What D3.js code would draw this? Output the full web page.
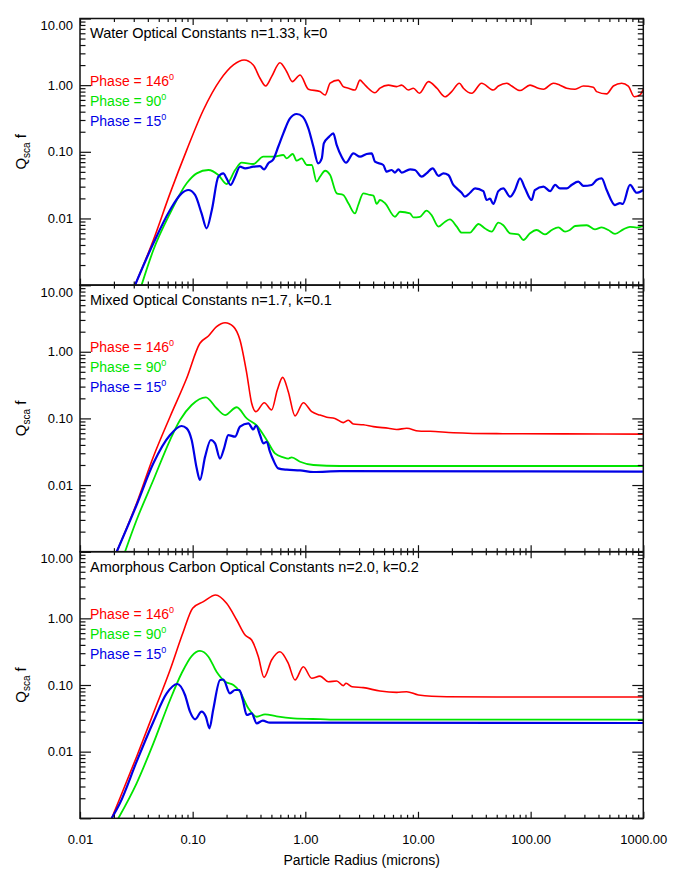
<!DOCTYPE html>
<html>
<head>
<meta charset="utf-8">
<script src="https://cdn.jsdelivr.net/npm/d3@7"></script>
<style>
  body { margin: 0; background: #fff; }
  text { font-family: "Liberation Sans", Arial, Helvetica, sans-serif; }
</style>
</head>
<body>
<svg id="chart" width="677" height="886"></svg>
<script>
// values: [radius (microns), Qsca f]
const water146 = [[0.0308,0.001],[0.0448,0.00475],[0.063,0.0238],[0.0885,0.106],[0.1245,0.424],[0.175,1.19],[0.23,2.01],[0.286,2.38],[0.345,2.01],[0.396,1.27],[0.445,0.97],[0.502,1.34],[0.595,2.17],[0.684,1.59],[0.767,1.13],[0.898,1.42],[1.064,0.87],[1.35,0.80],[1.50,0.71],[1.66,1.07],[1.96,1.19],[2.17,0.95],[2.41,0.90],[2.76,0.845],[3.06,1.19],[3.27,1.07],[3.5,0.95],[4.15,0.77],[4.6,0.90],[5.46,1.0],[6.47,0.95],[7.16,1.0],[8.2,0.845],[9.1,0.90],[10.3,0.755],[12.4,1.13],[14.7,0.90],[17.4,0.67],[19.9,0.80],[23.3,1.07],[25.3,0.90],[30,0.755],[36.7,1.07],[46.6,0.845],[51.7,0.97],[61.3,1.07],[67.9,0.97],[80.5,0.83],[98.7,1.0],[117,0.90],[130,0.87],[159,1.07],[182,1.0],[209,0.90],[248,0.87],[294,0.97],[360,0.93],[385,0.80],[473,0.74],[542,0.97],[643,1.07],[736,0.97],[832,0.67],[935,0.71],[1000,0.87]];
const water90 = [[0.0352,0.001],[0.0448,0.00336],[0.063,0.0119],[0.0885,0.0337],[0.1086,0.0475],[0.138,0.0533],[0.169,0.0449],[0.2,0.0329],[0.238,0.0533],[0.272,0.0687],[0.345,0.0656],[0.424,0.0845],[0.52,0.0845],[0.638,0.0895],[0.684,0.0798],[0.773,0.0927],[0.838,0.0736],[0.93,0.0798],[1.03,0.0634],[1.14,0.0634],[1.26,0.0356],[1.35,0.0423],[1.5,0.052],[1.66,0.0449],[1.9,0.0238],[2.17,0.0225],[2.41,0.0169],[2.76,0.0119],[2.95,0.0159],[3.27,0.0238],[3.75,0.0225],[4.02,0.022],[4.3,0.0165],[4.6,0.0189],[5.1,0.0169],[6.25,0.0106],[6.92,0.0126],[8.5,0.0119],[9.1,0.0104],[10.4,0.0106],[11.9,0.0131],[13.2,0.0112],[15.2,0.00753],[17.4,0.00895],[19.2,0.0097],[22.1,0.00753],[24.4,0.00612],[29,0.00612],[31,0.00687],[34.4,0.00826],[39.4,0.00705],[45.1,0.00634],[51.7,0.00865],[57.2,0.0079],[65.6,0.00598],[77.8,0.00575],[86.1,0.00475],[98.7,0.00598],[113,0.00671],[134,0.00575],[154,0.00671],[176,0.00736],[202,0.00634],[223,0.00671],[248,0.0077],[315,0.0079],[372,0.00687],[427,0.00736],[489,0.00671],[561,0.00585],[665,0.00687],[762,0.0075],[874,0.0073],[1000,0.0077]];
const water15 = [[0.0308,0.001],[0.0448,0.00424],[0.063,0.0134],[0.0798,0.0238],[0.0914,0.0267],[0.105,0.0225],[0.12,0.0119],[0.133,0.00711],[0.148,0.0134],[0.169,0.0423],[0.187,0.0475],[0.2,0.04],[0.217,0.0318],[0.238,0.0423],[0.263,0.0598],[0.292,0.0565],[0.345,0.0598],[0.396,0.061],[0.43,0.0546],[0.47,0.0672],[0.52,0.0771],[0.575,0.119],[0.638,0.189],[0.731,0.318],[0.838,0.369],[0.948,0.336],[1.064,0.225],[1.18,0.119],[1.30,0.0672],[1.40,0.0798],[1.46,0.134],[1.63,0.169],[1.77,0.189],[1.9,0.126],[2.1,0.0845],[2.3,0.0687],[2.67,0.0948],[3.06,0.0845],[3.5,0.0927],[3.88,0.0948],[4.15,0.0711],[4.92,0.0634],[5.27,0.0503],[5.84,0.0533],[6.25,0.0487],[6.7,0.0546],[7.16,0.0487],[8.5,0.0546],[9.4,0.0533],[10.8,0.0423],[11.9,0.0475],[13.5,0.0565],[15.2,0.0435],[16.8,0.0475],[18.6,0.0449],[20.6,0.0318],[22.1,0.0283],[24.4,0.0243],[26.1,0.0212],[29,0.0243],[32.1,0.0283],[38,0.0257],[40.7,0.0189],[43.6,0.0198],[46.6,0.0165],[51.7,0.0257],[57.2,0.0283],[65.6,0.0212],[72.6,0.0267],[80.5,0.04],[89.1,0.0283],[102,0.0189],[109,0.0267],[130,0.03],[149,0.0257],[165,0.0318],[182,0.0283],[209,0.0283],[231,0.0318],[265,0.0356],[294,0.0308],[348,0.0318],[385,0.0378],[427,0.04],[473,0.0267],[561,0.0159],[621,0.017],[656,0.0165],[762,0.0318],[874,0.0243],[1000,0.0267]];

const mixed146 = [[0.0212,0.001],[0.0318,0.00532],[0.0448,0.0266],[0.063,0.106],[0.0885,0.4],[0.116,1.34],[0.138,1.72],[0.163,2.38],[0.194,2.73],[0.23,2.38],[0.263,1.5],[0.302,0.475],[0.334,0.169],[0.365,0.126],[0.432,0.172],[0.502,0.134],[0.564,0.267],[0.63,0.413],[0.706,0.252],[0.81,0.109],[0.96,0.172],[1.14,0.126],[1.35,0.112],[1.55,0.104],[1.83,0.1],[2.17,0.0863],[2.41,0.094],[2.67,0.0822],[3.27,0.0803],[4.02,0.0752],[5.46,0.071],[6.47,0.0683],[7.94,0.071],[10.1,0.0648],[12.8,0.064],[20.6,0.061],[50,0.059],[195,0.0585],[1000,0.058]];
const mixed90 = [[0.0251,0.001],[0.0318,0.00299],[0.0448,0.0119],[0.063,0.0474],[0.0773,0.0946],[0.098,0.159],[0.131,0.207],[0.163,0.142],[0.194,0.112],[0.246,0.147],[0.302,0.1],[0.37,0.0783],[0.454,0.0474],[0.538,0.0299],[0.638,0.0261],[0.706,0.025],[0.757,0.0261],[0.898,0.0224],[1.18,0.02],[2.03,0.0193],[1000,0.0193]];
const mixed15 = [[0.0212,0.001],[0.0318,0.00502],[0.0448,0.0212],[0.063,0.0563],[0.0798,0.0769],[0.0885,0.071],[0.098,0.0474],[0.1086,0.0178],[0.116,0.0119],[0.129,0.0267],[0.145,0.0474],[0.158,0.0423],[0.175,0.025],[0.19,0.0356],[0.207,0.0563],[0.238,0.0532],[0.263,0.0752],[0.312,0.0844],[0.345,0.0683],[0.365,0.0783],[0.396,0.0563],[0.424,0.0423],[0.454,0.0446],[0.485,0.0317],[0.52,0.0237],[0.575,0.0178],[0.684,0.017],[0.898,0.0166],[1.18,0.0157],[2.03,0.0162],[1000,0.0159]];

const carbon146 = [[0.0191,0.001],[0.0226,0.002],[0.0318,0.0084],[0.0448,0.0376],[0.063,0.168],[0.0826,0.631],[0.1,1.42],[0.1245,1.78],[0.16,2.24],[0.2,1.68],[0.246,0.944],[0.292,0.562],[0.334,0.473],[0.383,0.266],[0.43,0.13],[0.502,0.237],[0.595,0.316],[0.706,0.211],[0.81,0.119],[0.96,0.188],[1.14,0.126],[1.35,0.136],[1.6,0.112],[1.9,0.115],[2.17,0.0977],[2.3,0.106],[2.6,0.0942],[3.27,0.0912],[4.6,0.0813],[6.47,0.0776],[7.94,0.0794],[10.1,0.0708],[18,0.0668],[50,0.066],[1000,0.066]];
const carbon90 = [[0.0219,0.001],[0.0318,0.00335],[0.0448,0.0133],[0.063,0.0596],[0.0798,0.15],[0.098,0.272],[0.116,0.324],[0.138,0.266],[0.163,0.158],[0.194,0.112],[0.23,0.1],[0.263,0.0794],[0.312,0.0447],[0.37,0.0334],[0.439,0.0363],[0.556,0.0338],[0.785,0.0316],[1.35,0.0307],[2.03,0.0302],[1000,0.0302]];
const carbon15 = [[0.0191,0.001],[0.0226,0.00168],[0.0318,0.00707],[0.0448,0.0281],[0.0588,0.075],[0.0731,0.1035],[0.0855,0.0708],[0.0947,0.0398],[0.105,0.0306],[0.12,0.0398],[0.131,0.0334],[0.141,0.0224],[0.152,0.0422],[0.175,0.119],[0.187,0.121],[0.214,0.075],[0.238,0.0841],[0.26,0.0841],[0.278,0.061],[0.302,0.0355],[0.334,0.0376],[0.37,0.0266],[0.419,0.0292],[0.485,0.0272],[0.684,0.0272],[1000,0.0269]];

const panelTitles = ["Water Optical Constants n=1.33, k=0", "Mixed Optical Constants n=1.7, k=0.1", "Amorphous Carbon Optical Constants n=2.0, k=0.2"];
const panelSeries = [[water146, water90, water15], [mixed146, mixed90, mixed15], [carbon146, carbon90, carbon15]];
const phaseLabels = ["146", "90", "15"];
const xTicks = [0.01, 0.1, 1, 10, 100, 1000];
const yTicks = [0.001, 0.01, 0.1, 1, 10];

const colors = ["#ff0000", "#00e400", "#0000e6"];
const widths = [1.6, 1.8, 2.2];

const plotLeft = 80, plotRight = 643.3, plotTop = 18.5, panelH = 266.6;
const svg = d3.select("#chart");
const fmt = d3.format(".2f");

const x = d3.scaleLog().domain([0.01, 1000]).range([plotLeft, plotRight]);

const minorX = [], minorY = [];
for (let e = -2; e < 3; e++) for (let k = 2; k < 10; k++) minorX.push(k * Math.pow(10, e));
for (let e = -3; e < 1; e++) for (let k = 2; k < 10; k++) minorY.push(k * Math.pow(10, e));

function styleAxis(g) {
    g.select(".domain").remove();
    g.selectAll("line").attr("stroke", "#111").attr("stroke-width", 1.2);
    g.selectAll("text").attr("fill", "#000").style("font-size", "13px");
}

panelSeries.forEach((series, i) => {
    const top = plotTop + i * panelH;
    const bottom = top + panelH;
    const y = d3.scaleLog().domain([0.001, 10]).range([bottom, top]);

    svg.append("clipPath").attr("id", "clip" + i)
        .append("rect")
        .attr("x", plotLeft).attr("y", top)
        .attr("width", plotRight - plotLeft).attr("height", panelH);

    const line = d3.line()
        .x(d => x(d[0]))
        .y(d => y(d[1]))
        .curve(d3.curveMonotoneX);

    series.forEach((s, j) => {
        svg.append("path")
            .datum(s)
            .attr("clip-path", `url(#clip${i})`)
            .attr("fill", "none")
            .attr("stroke", colors[j])
            .attr("stroke-width", widths[j])
            .attr("stroke-linejoin", "round")
            .attr("d", line);
    });

    // left axis
    const left = svg.append("g")
        .attr("transform", `translate(${plotLeft},0)`)
        .call(d3.axisLeft(y).tickValues(yTicks).tickSize(-11).tickSizeOuter(0).tickPadding(7)
            .tickFormat(d => d > 0.005 ? fmt(d) : ""));
    left.selectAll("text").filter(d => d === 10).attr("dy", "0.85em");
    styleAxis(left);
    svg.append("g")
        .attr("transform", `translate(${plotLeft},0)`)
        .call(d3.axisLeft(y).tickValues(minorY).tickSize(-5.5).tickSizeOuter(0).tickFormat(""))
        .call(styleAxis);

    // right axis
    svg.append("g")
        .attr("transform", `translate(${plotRight},0)`)
        .call(d3.axisRight(y).tickValues(yTicks).tickSize(-11).tickSizeOuter(0).tickFormat(""))
        .call(styleAxis);
    svg.append("g")
        .attr("transform", `translate(${plotRight},0)`)
        .call(d3.axisRight(y).tickValues(minorY).tickSize(-5.5).tickSizeOuter(0).tickFormat(""))
        .call(styleAxis);

    // top and bottom axes
    svg.append("g")
        .attr("transform", `translate(0,${top})`)
        .call(d3.axisTop(x).tickValues(xTicks).tickSize(-6.5).tickSizeOuter(0).tickFormat(""))
        .call(styleAxis);
    svg.append("g")
        .attr("transform", `translate(0,${top})`)
        .call(d3.axisTop(x).tickValues(minorX).tickSize(-3.5).tickSizeOuter(0).tickFormat(""))
        .call(styleAxis);
    const bot = svg.append("g")
        .attr("transform", `translate(0,${bottom})`)
        .call(d3.axisBottom(x).tickValues(xTicks).tickSize(-6.5).tickSizeOuter(0).tickPadding(16)
            .tickFormat(i === panelSeries.length - 1 ? fmt : ""));
    styleAxis(bot);
    svg.append("g")
        .attr("transform", `translate(0,${bottom})`)
        .call(d3.axisBottom(x).tickValues(minorX).tickSize(-3.5).tickSizeOuter(0).tickFormat(""))
        .call(styleAxis);

    // frame
    svg.append("rect")
        .attr("x", plotLeft).attr("y", top)
        .attr("width", plotRight - plotLeft).attr("height", panelH)
        .attr("fill", "none").attr("stroke", "#111").attr("stroke-width", 1.5);

    // panel title
    svg.append("text")
        .attr("x", 90).attr("y", top + 19.8)
        .attr("fill", "#000")
        .style("font-size", "14.5px")
        .text(panelTitles[i]);

    // phase legend
    phaseLabels.forEach((p, j) => {
        const t = svg.append("text")
            .attr("x", 90).attr("y", top + 67.2 + j * 20)
            .attr("fill", colors[j])
            .style("font-size", "14px");
        t.append("tspan").text("Phase = " + p);
        t.append("tspan").attr("dy", -6).style("font-size", "9px").text("0");
    });

    // y axis title
    const yt = svg.append("text")
        .attr("transform", `translate(26,${(top + bottom) / 2}) rotate(-90)`)
        .attr("text-anchor", "middle")
        .attr("fill", "#000")
        .style("font-size", "15px");
    yt.append("tspan").text("Q");
    yt.append("tspan").attr("dy", 4).style("font-size", "10px").text("sca");
    yt.append("tspan").attr("dy", -4).text(" f");
});

svg.append("text")
    .attr("x", (plotLeft + plotRight) / 2)
    .attr("y", 865)
    .attr("text-anchor", "middle")
    .attr("fill", "#000")
    .style("font-size", "14px")
    .text("Particle Radius (microns)");
</script>
</body>
</html>
